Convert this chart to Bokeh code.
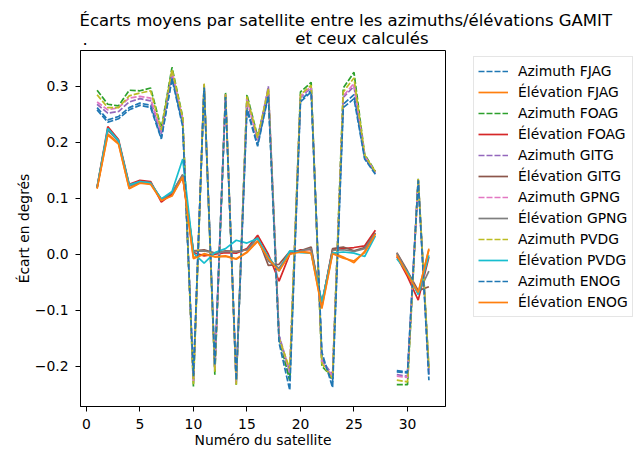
import numpy as np
from bokeh.plotting import figure
from bokeh.layouts import column, row
from bokeh.models import Legend, LegendItem, Label, FixedTicker, Range1d
from bokeh.embed import file_html
from bokeh.resources import INLINE

nan = float("nan")
satellites = list(range(1, 33))

# Azimuth mean differences (degrees) per satellite; satellite 28 missing
az_fjag = [0.262, 0.240, 0.246, 0.262, 0.270, 0.266, 0.208, 0.316, 0.232, -0.222, 0.300, -0.202, 0.283, -0.228, 0.262, 0.196,
           0.285, -0.145, -0.225, 0.275, 0.293, -0.183, -0.228, 0.268, 0.285, 0.172, 0.145, nan, -0.208, -0.210, 0.133, -0.215]
az_foag = [0.293, 0.268, 0.265, 0.293, 0.292, 0.297, 0.225, 0.334, 0.245, -0.236, 0.303, -0.215, 0.289, -0.233, 0.285, 0.210,
           0.292, -0.150, -0.225, 0.290, 0.307, -0.200, -0.220, 0.297, 0.325, 0.178, 0.148, nan, -0.233, -0.233, 0.135, -0.205]
az_gitg = [0.268, 0.252, 0.255, 0.272, 0.278, 0.274, 0.215, 0.325, 0.238, -0.226, 0.303, -0.205, 0.285, -0.230, 0.275, 0.203,
           0.300, -0.145, -0.210, 0.280, 0.298, -0.190, -0.215, 0.280, 0.300, 0.175, 0.146, nan, -0.215, -0.218, 0.133, -0.210]
az_gpng = [0.272, 0.258, 0.262, 0.279, 0.282, 0.279, 0.218, 0.328, 0.240, -0.228, 0.304, -0.207, 0.286, -0.231, 0.278, 0.205,
           0.295, -0.148, -0.212, 0.282, 0.300, -0.192, -0.218, 0.283, 0.305, 0.176, 0.146, nan, -0.218, -0.220, 0.134, -0.213]
az_pvdg = [0.285, 0.262, 0.262, 0.283, 0.288, 0.292, 0.222, 0.330, 0.243, -0.232, 0.305, -0.210, 0.287, -0.233, 0.282, 0.208,
           0.296, -0.150, -0.205, 0.285, 0.302, -0.195, -0.222, 0.290, 0.315, 0.177, 0.147, nan, -0.225, -0.228, 0.135, -0.203]
az_enog = [0.258, 0.236, 0.242, 0.258, 0.266, 0.262, 0.206, 0.313, 0.228, -0.218, 0.298, -0.198, 0.281, -0.225, 0.258, 0.193,
           0.283, -0.158, -0.243, 0.272, 0.290, -0.175, -0.238, 0.262, 0.278, 0.170, 0.143, nan, -0.210, -0.212, 0.132, -0.225]

# Elevation mean differences (degrees)
el_fjag = [0.118, 0.215, 0.198, 0.118, 0.128, 0.126, 0.097, 0.105, 0.140, -0.006, 0.001, -0.004, -0.003, -0.008, 0.004, 0.024,
           -0.006, -0.028, 0.002, 0.005, 0.003, -0.095, 0.003, -0.005, -0.015, 0.005, 0.038, nan, 0.000, -0.035, -0.070, 0.010]
el_foag = [0.120, 0.228, 0.205, 0.125, 0.132, 0.130, 0.093, 0.108, 0.138, 0.003, -0.003, 0.000, 0.003, 0.002, 0.010, 0.034,
           0.000, -0.048, 0.000, 0.008, 0.008, -0.088, 0.008, 0.010, 0.012, 0.015, 0.043, nan, -0.004, -0.040, -0.082, -0.005]
el_gitg = [0.119, 0.222, 0.202, 0.122, 0.130, 0.128, 0.098, 0.110, 0.142, 0.006, 0.008, 0.002, 0.006, 0.005, 0.008, 0.030,
           -0.020, -0.018, 0.005, 0.006, 0.013, -0.090, 0.010, 0.013, 0.006, 0.012, 0.038, nan, 0.003, -0.030, -0.065, -0.058]
el_gpng = [0.119, 0.222, 0.202, 0.122, 0.130, 0.128, 0.098, 0.110, 0.142, 0.005, 0.006, 0.002, 0.005, 0.004, 0.008, 0.030,
           -0.012, -0.025, 0.004, 0.006, 0.010, -0.090, 0.007, 0.008, 0.005, 0.010, 0.038, nan, 0.002, -0.033, -0.070, -0.030]
el_pvdg = [0.120, 0.225, 0.203, 0.124, 0.130, 0.127, 0.099, 0.112, 0.170, 0.002, -0.016, 0.003, 0.010, 0.025, 0.020, 0.028,
           -0.005, -0.030, 0.006, 0.003, 0.002, -0.085, 0.002, 0.004, 0.002, -0.004, 0.033, nan, -0.008, -0.032, -0.072, -0.002]
el_enog = [0.117, 0.213, 0.197, 0.117, 0.127, 0.125, 0.096, 0.104, 0.138, -0.008, 0.000, -0.005, -0.004, -0.009, 0.003, 0.023,
           -0.008, -0.030, 0.000, 0.004, 0.002, -0.097, 0.001, -0.007, -0.012, 0.003, 0.036, nan, -0.002, -0.036, -0.068, 0.008]

series = [
    ("Azimuth FJAG", az_fjag, "#1f77b4", True),
    ("Élévation FJAG", el_fjag, "#ff7f0e", False),
    ("Azimuth FOAG", az_foag, "#2ca02c", True),
    ("Élévation FOAG", el_foag, "#d62728", False),
    ("Azimuth GITG", az_gitg, "#9467bd", True),
    ("Élévation GITG", el_gitg, "#8c564b", False),
    ("Azimuth GPNG", az_gpng, "#e377c2", True),
    ("Élévation GPNG", el_gpng, "#7f7f7f", False),
    ("Azimuth PVDG", az_pvdg, "#bcbd22", True),
    ("Élévation PVDG", el_pvdg, "#17becf", False),
    ("Azimuth ENOG", az_enog, "#1f77b4", True),
    ("Élévation ENOG", el_enog, "#ff7f0e", False),
]

x_ticks = [0, 5, 10, 15, 20, 25, 30]
y_ticks = [-0.2, -0.1, 0.0, 0.1, 0.2, 0.3]
y_tick_labels = ["−0.2", "−0.1", "0.0", "0.1", "0.2", "0.3"]

title_line1 = "Écarts moyens par satellite entre les azimuths/élévations GAMIT"
title_dot = "."
title_line2 = "et ceux calculés"

FONT = "DejaVu Sans"
TITLE_SIZE = "16.5px"


def bare_figure(w, h, xr, yr):
    f = figure(width=w, height=h, output_backend="svg", toolbar_location=None, title=None,
               x_range=xr, y_range=yr, min_border=0, x_axis_location=None, y_axis_location=None)
    f.outline_line_color = None
    f.xgrid.visible = False
    f.ygrid.visible = False
    return f


# ---- title strip (pixel-space frame, y pointing down) ----
tf = bare_figure(636, 50, Range1d(0, 636), Range1d(50, 0))
for txt, x, y, align in [(title_line1, 79, 20, "left"),
                         (title_dot, 82, 38, "left"),
                         (title_line2, 428, 38, "right")]:
    tf.add_layout(Label(x=x, y=y, text=txt, text_align=align, text_baseline="alphabetic",
                        text_font=FONT, text_font_size=TITLE_SIZE, text_color="black"))

# ---- main chart ----
p = figure(width=447, height=403, output_backend="svg", toolbar_location=None, title=None,
           x_range=Range1d(-0.55, 33.55), y_range=Range1d(-0.272, 0.364),
           min_border_left=80, min_border_right=2, min_border_top=0, min_border_bottom=47)
p.xgrid.visible = False
p.ygrid.visible = False
p.outline_line_color = "black"
p.outline_line_width = 1

for ax in (p.xaxis[0], p.yaxis[0]):
    ax.axis_line_color = "black"
    ax.major_tick_line_color = "black"
    ax.major_tick_out = 5
    ax.major_tick_in = 0
    ax.minor_tick_line_color = None
    ax.major_label_text_font = FONT
    ax.major_label_text_font_size = "13.9px"
    ax.major_label_text_color = "black"
    ax.axis_label_text_font = FONT
    ax.axis_label_text_font_size = "13.9px"
    ax.axis_label_text_font_style = "normal"
    ax.axis_label_text_color = "black"

p.xaxis.ticker = FixedTicker(ticks=x_ticks)
p.yaxis.ticker = FixedTicker(ticks=y_ticks)
p.yaxis.major_label_overrides = {v: s for v, s in zip(y_ticks, y_tick_labels)}
p.xaxis.axis_label = "Numéro du satellite"
p.yaxis.axis_label = "Écart en degrés"
p.xaxis.major_label_standoff = 7
p.yaxis.major_label_standoff = 7
p.xaxis.axis_label_standoff = 0
p.yaxis.axis_label_standoff = 0

for name, vals, color, dashed in series:
    p.line(satellites, vals, line_color=color, line_width=1.7,
           line_dash="6 2" if dashed else "solid")

# ---- legend panel (same series drawn out of view, only the legend shows) ----
lf = bare_figure(189, 403, Range1d(100, 101), Range1d(100, 101))
items = []
for name, vals, color, dashed in series:
    r = lf.line(satellites, vals, line_color=color, line_width=1.7,
                line_dash="6 2" if dashed else "solid")
    items.append(LegendItem(label=name, renderers=[r]))
legend = Legend(items=items, location=(26, 89), glyph_width=30, glyph_height=20,
                label_height=20, spacing=1, padding=4, margin=0, label_standoff=10,
                label_text_font=FONT, label_text_font_size="13.9px", label_text_color="black",
                border_line_color="#cccccc", border_line_width=1, background_fill_alpha=1)
lf.add_layout(legend, "center")

layout = column(tf, row(p, lf, spacing=0), spacing=0)
open("out.html", "w").write(file_html(layout, INLINE))
